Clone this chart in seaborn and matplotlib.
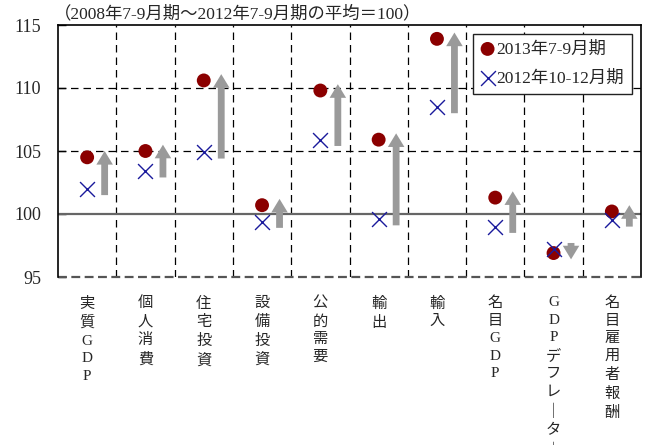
import matplotlib
matplotlib.use('Agg')
import matplotlib.pyplot as plt
import seaborn as sns
import pandas as pd

categories = ['実質GDP', '個人消費', '住宅投資', '設備投資', '公的需要',
              '輸出', '輸入', '名目GDP', 'GDPデフレーター', '名目雇用者報酬']
q3_2013 = [104.5, 105.0, 110.6, 100.7, 109.8, 105.9, 113.9, 101.3, 96.9, 100.2]
q4_2012 = [102.0, 103.4, 104.9, 99.4, 105.9, 99.6, 108.5, 99.0, 97.2, 99.5]
series_names = ['2013年7-9月期', '2012年10-12月期']
subtitle = '（2008年7-9月期～2012年7-9月期の平均＝100）'
yticks = [95, 100, 105, 110, 115]

sns.set_theme(style='white')
FAM = ['Liberation Serif', 'Noto Sans CJK JP', 'DejaVu Sans']
plt.rcParams['font.family'] = FAM

fig = plt.figure(figsize=(6.48, 4.45), dpi=100)
ax = fig.add_axes([58/648, 1-277/445, (641-58)/648, (277-25)/445])

df_a = pd.DataFrame({'cat': categories, 'val': q3_2013})
df_b = pd.DataFrame({'cat': categories, 'val': q4_2012})

# grid lines
for yv in [105, 110]:
    ax.axhline(yv, color='black', lw=0.9, ls=(0, (6, 4)), zorder=1)
for i in range(len(categories) - 1):
    ax.axvline(i + 0.5, color='black', lw=0.9, ls=(0, (6, 4)), zorder=1)
ax.axhline(100, color='#666666', lw=1.6, zorder=1)
ax.axhline(95, color='#555555', lw=1.6, ls=(0, (4, 2)), zorder=1, clip_on=False)

sns.scatterplot(data=df_a, x='cat', y='val', ax=ax, marker='o', s=100,
                color='#8B0000', edgecolor='none', label=series_names[0], zorder=3)
sns.scatterplot(data=df_b, x='cat', y='val', ax=ax, marker='x', s=115,
                color='#1a1a9c', linewidth=1.0, label=series_names[1], zorder=4)

# arrows from 2012Q4 to 2013Q3
for i, (a, b) in enumerate(zip(q4_2012, q3_2013)):
    sgn = 1 if b >= a else -1
    ax.annotate('', xy=(i + 0.3, b + 0.5 * sgn), xytext=(i + 0.3, a - 0.5 * sgn),
                arrowprops=dict(arrowstyle='simple,head_length=0.7,head_width=0.85,tail_width=0.35',
                                mutation_scale=14, color='#9a9a9a', lw=0,
                                shrinkA=0, shrinkB=0), zorder=2)

ax.set_xlim(-0.5, len(categories) - 0.5)
ax.set_ylim(95, 115)
ax.set_yticks(yticks)
ax.set_yticklabels([str(t) for t in yticks], fontsize=13, family=FAM)
ax.set_xticks(range(len(categories)))
vlabels = ['\n'.join(c.replace('ー', '｜')) for c in categories]
ax.set_xticklabels(vlabels, fontsize=11, linespacing=1.45, va='top', family=FAM)
ax.set_xlabel('')
ax.set_ylabel('')
ax.tick_params(axis='y', direction='in', length=6, width=1, color='black', pad=12, left=True)
ax.tick_params(axis='x', length=0, pad=14)

for side in ['left', 'top', 'right']:
    ax.spines[side].set_color('black')
    ax.spines[side].set_linewidth(1.2)
ax.spines['bottom'].set_visible(False)

leg = ax.legend(loc='upper right', bbox_to_anchor=(0.99, 0.98), fontsize=12.5,
                frameon=True, fancybox=False, handlelength=0.8, handletextpad=0.1,
                borderpad=0.45, labelspacing=0.75, borderaxespad=0.2)
leg.get_frame().set_edgecolor('#222222')
leg.get_frame().set_linewidth(1.0)
leg.get_frame().set_alpha(1)

fig.text(54/648, 1-14/445, subtitle, fontsize=12.5, va='center', ha='left', family=FAM)

fig.savefig('out.png', dpi=100)
